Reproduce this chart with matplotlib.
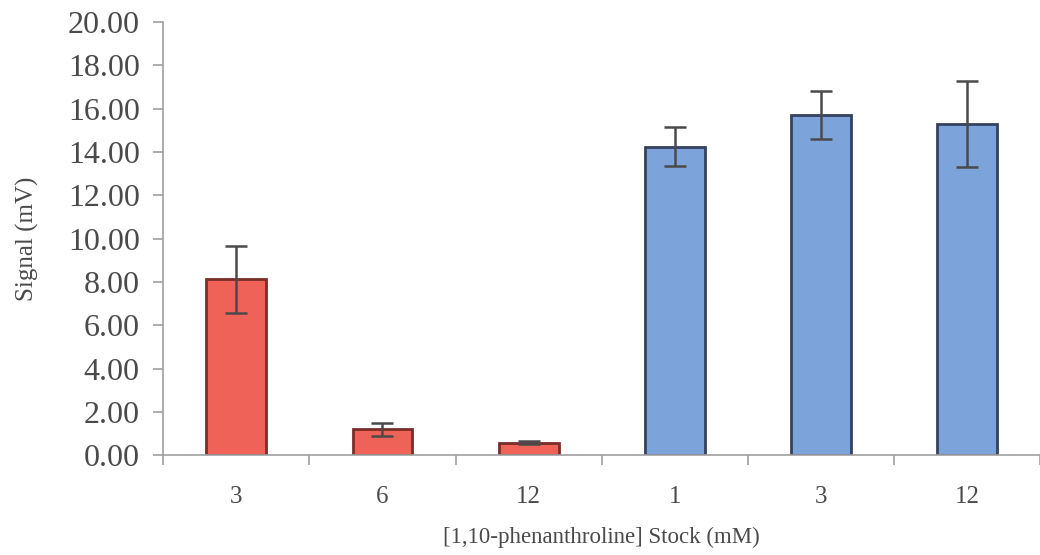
import matplotlib
matplotlib.use("Agg")
import matplotlib.pyplot as plt
import numpy as np

# data
labels = ["3", "6", "12", "1", "3", "12"]
signal = [8.13, 1.20, 0.58, 14.25, 15.70, 15.30]
errors = [1.55, 0.30, 0.06, 0.90, 1.10, 2.00]
colors = ["#EF6258", "#EF6258", "#EF6258", "#7DA3DB", "#7DA3DB", "#7DA3DB"]
edges = ["#7A2E28", "#7A2E28", "#7A2E28", "#34425E", "#34425E", "#34425E"]

plt.rcParams['font.family'] = ['Liberation Serif', 'DejaVu Serif']
txt = "#4a4a4a"
axcol = "#a0a0a0"

fig = plt.figure(figsize=(10.4, 5.55), dpi=100)
ax = fig.add_axes([0.157, 0.180, 0.843, 0.780])

x = np.arange(len(labels))
ax.bar(x, signal, width=0.41, color=colors, edgecolor=edges, linewidth=2.0, zorder=2)
ax.errorbar(x, signal, yerr=errors, fmt="none", ecolor="#4a4a4a",
            elinewidth=1.8, capsize=8, capthick=1.8, zorder=3)

ax.set_xlim(-0.5, 5.5)
ax.set_ylim(0, 20)
ax.set_yticks(np.arange(0, 20.01, 2))
ax.set_yticklabels(["%.2f" % v for v in np.arange(0, 20.01, 2)], fontsize=23, color=txt)

# category labels centred, ticks between categories
ax.set_xticks(x)
ax.set_xticklabels(labels, fontsize=18, color=txt)
ax.tick_params(axis="x", which="major", length=0, pad=22)
ax.set_xticks(np.arange(-0.5, 5.6, 1), minor=True)
ax.tick_params(axis="x", which="minor", length=7, color=axcol, width=1.2)
ax.tick_params(axis="y", length=7, color=axcol, width=1.2, pad=10)

for s in ["top", "right"]:
    ax.spines[s].set_visible(False)
for s in ["left", "bottom"]:
    ax.spines[s].set_color(axcol)
    ax.spines[s].set_linewidth(1.2)

ax.set_ylabel("Signal (mV)", fontsize=18, color=txt)
ax.yaxis.set_label_coords(-0.142, 0.5)
ax.set_xlabel("[1,10-phenanthroline] Stock (mM)", fontsize=16.5, color=txt)
ax.xaxis.set_label_coords(0.5, -0.165)

fig.savefig("out.png", dpi=100)
